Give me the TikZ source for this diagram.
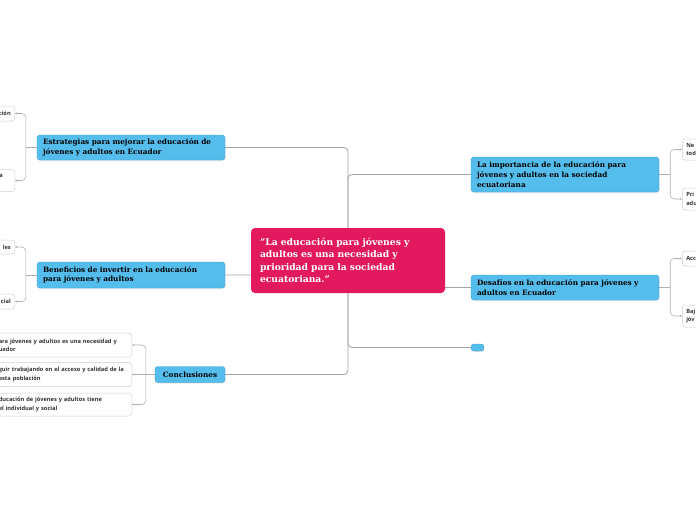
\documentclass[tikz,border=0pt]{standalone}
\usepackage{fontspec}
\setmainfont{DejaVu Serif}
\setsansfont{Open Sans}
\usetikzlibrary{positioning, backgrounds, shadows, arrows.meta}
\definecolor{MapPink}{HTML}{E3195F}
\definecolor{MapBlue}{HTML}{55BDEC}
\definecolor{MapBlueEdge}{HTML}{3A9ED4}
\definecolor{MapLine}{HTML}{A3A3A3}
\definecolor{MapLeafEdge}{HTML}{CFCFCF}
\definecolor{MapText}{HTML}{333333}

\begin{document}
\begin{tikzpicture}[x=1pt, y=-1pt,
    hub/.style={rectangle, rounded corners=4pt, fill=MapPink, text=white,
        font=\fontsize{9.2}{12.3}\selectfont\bfseries, align=left,
        minimum width=194pt, minimum height=65pt, text width=176pt, inner sep=0pt},
    topic/.style={rectangle, rounded corners=3pt, fill=MapBlue, draw=MapBlueEdge,
        line width=0.4pt, font=\fontsize{7.3}{9.7}\selectfont\bfseries, inner sep=0pt,
        drop shadow={opacity=0.2, shadow xshift=0.4pt, shadow yshift=-1pt}},
    wide/.style={align=left, minimum width=188pt, text width=176pt},
    leaf/.style={rectangle, rounded corners=3pt, fill=white, draw=MapLeafEdge,
        line width=0.5pt, font=\sffamily\fontsize{5.7}{8.3}\selectfont\bfseries,
        text=MapText, inner sep=0pt},
    trunk/.style={draw=MapLine, line width=0.8pt, rounded corners=4pt},
    stub/.style={draw=MapLeafEdge!85!black, line width=0.6pt},
    twig/.style={stub, rounded corners=4pt,
        {Stealth[length=2pt, width=2pt]}-{Stealth[length=2pt, width=2pt]}},
    twigend/.style={stub, -{Stealth[length=2pt, width=2pt]}}]
  \useasboundingbox (0,0) rectangle (696,520);
  \clip (0,0) rectangle (696,520);

  % Central topic
  \node[hub] (hub) at (348,260.5) {\symbol{34}La educación para jóvenes y\\ adultos es una necesidad y\\ prioridad para la sociedad\\ ecuatoriana.\symbol{34}};

  % Main topics, left
  \node[topic, wide, minimum height=25pt] (estr) at (131,147.5) {Estrategias para mejorar la educación de\\ jóvenes y adultos en Ecuador};
  \node[topic, wide, minimum height=26pt] (bene) at (131,275) {Beneficios de invertir en la educación\\ para jóvenes y adultos};
  \node[topic, minimum width=70pt, minimum height=16pt] (concl) at (190,374.5) {Conclusiones};

  % Main topics, right
  \node[topic, wide, minimum height=35pt] (impo) at (565,174.5) {La importancia de la educación para\\ jóvenes y adultos en la sociedad\\ ecuatoriana};
  \node[topic, wide, minimum height=25pt] (desa) at (565,287.5) {Desafíos en la educación para jóvenes y\\ adultos en Ecuador};
  \node[topic, minimum width=13pt, minimum height=7pt] (blank) at (477.5,347.5) {};

  % Subtopics (cut by the frame)
  \node[leaf, anchor=east, minimum width=60pt, minimum height=15pt, text width=52pt, align=right] (estrA) at (15,113.5) {ción};
  \node[leaf, anchor=east, minimum width=60pt, minimum height=22pt, text width=52pt, align=right] (estrB) at (15,180.5) {\mbox{a\hspace{8pt}}\\\mbox{}};
  \node[leaf, anchor=east, minimum width=60pt, minimum height=14pt, text width=52pt, align=right] (beneA) at (15,247) {les};
  \node[leaf, anchor=east, minimum width=60pt, minimum height=15pt, text width=52pt, align=right] (beneB) at (15,301.5) {cial};

  \node[leaf, anchor=east, minimum width=134pt, minimum height=24pt, text width=132pt, align=left] (conclA) at (132,345) {ara jóvenes y adultos es una necesidad y\\ uador};
  \node[leaf, anchor=east, minimum width=134pt, minimum height=24pt, text width=132pt, align=left] (conclB) at (132,374.5) {guir trabajando en el acceso y calidad de la\\ esta población};
  \node[leaf, anchor=east, minimum width=134pt, minimum height=23pt, text width=132pt, align=left] (conclC) at (132,404.5) {ducación de jóvenes y adultos tiene\\ el individual y social};

  \node[leaf, anchor=west, minimum width=60pt, minimum height=21pt, text width=52pt, align=left] (impoA) at (682,149.5) {Ne\\ tod};
  \node[leaf, anchor=west, minimum width=60pt, minimum height=22pt, text width=52pt, align=left] (impoB) at (682,199) {Pri\\ adu};
  \node[leaf, anchor=west, minimum width=60pt, minimum height=15pt, text width=52pt, align=left] (desaA) at (682,258.5) {Acc};
  \node[leaf, anchor=west, minimum width=60pt, minimum height=22pt, text width=52pt, align=left] (desaB) at (682,316) {Baj\\ jóv};

  % Forks
  \coordinate (estrFork) at ([xshift=-11pt]estr.west);
  \coordinate (beneFork) at ([xshift=-11pt]bene.west);
  \coordinate (conclFork) at ([xshift=-9pt]concl.west);
  \coordinate (impoFork) at ([xshift=11pt]impo.east);
  \coordinate (desaFork) at ([xshift=11pt]desa.east);

  \begin{scope}[on background layer]
    % Trunk
    \draw[trunk] (hub.center) |- (estr.east);
    \draw[trunk] (hub.center) |- (bene.east);
    \draw[trunk] (hub.center) |- (concl.east);
    \draw[trunk] (hub.center) |- (impo.west);
    \draw[trunk] (hub.center) |- (desa.west);
    \draw[trunk] (hub.center) |- (blank.west);

    % Branches to subtopics
    \draw[stub] (estr.west) -- (estrFork);
    \draw[twig] (estrA.east) -| (estrFork) |- (estrB.east);
    \draw[stub] (bene.west) -- (beneFork);
    \draw[twig] (beneA.east) -| (beneFork) |- (beneB.east);
    \draw[twigend] (concl.west) -- (conclB.east);
    \draw[twig] (conclA.east) -| (conclFork) |- (conclC.east);
    \draw[stub] (impo.east) -- (impoFork);
    \draw[twig] (impoA.west) -| (impoFork) |- (impoB.west);
    \draw[stub] (desa.east) -- (desaFork);
    \draw[twig] (desaA.west) -| (desaFork) |- (desaB.west);
  \end{scope}
\end{tikzpicture}
\end{document}
